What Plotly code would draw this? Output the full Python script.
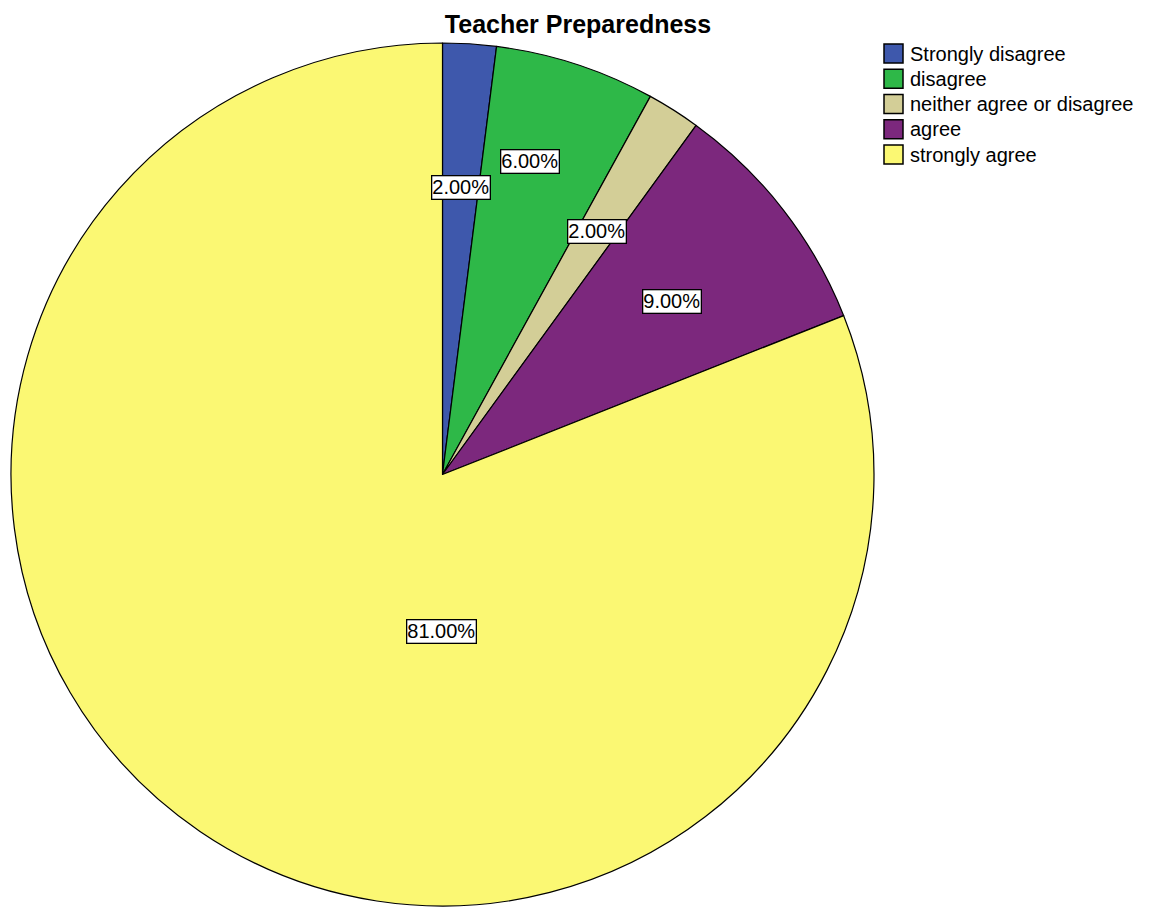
import math
import plotly.graph_objects as go

# ---- data ----
categories = ["Strongly disagree", "disagree", "neither agree or disagree", "agree", "strongly agree"]
percents = [2.0, 6.0, 2.0, 9.0, 81.0]
label_texts = ["2.00%", "6.00%", "2.00%", "9.00%", "81.00%"]

# ---- style ----
colors = ["#3E58AC", "#2EB848", "#D3CE97", "#7C287D", "#FBF873"]
label_radius_frac = [0.667, 0.754, 0.667, 0.667, 0.363]
label_angle_shift = [0.0, -2.4, 0.0, 0.8, -33.7]

W, H = 1150, 907
dom_x = [10 / W, 875 / W]
dom_y = [1 - 906 / H, 1 - 43 / H]

fig = go.Figure(go.Pie(
    labels=categories,
    values=percents,
    sort=False,
    direction="clockwise",
    rotation=0,
    marker=dict(colors=colors, line=dict(color="black", width=1.2)),
    textinfo="none",
    hoverinfo="label+percent",
    domain=dict(x=dom_x, y=dom_y),
    showlegend=False,
))

# slice labels derived from slice geometry
cx = (dom_x[0] + dom_x[1]) / 2 * W
cy = (1 - (dom_y[0] + dom_y[1]) / 2) * H
R = min((dom_x[1] - dom_x[0]) * W, (dom_y[1] - dom_y[0]) * H) / 2
total = sum(percents)
cum = 0.0
annotations = []
for v, txt, rf, sh in zip(percents, label_texts, label_radius_frac, label_angle_shift):
    mid = (cum + v / 2) / total * 360 + sh
    cum += v
    th = math.radians(mid)
    px = cx + rf * R * math.sin(th)
    py = cy - rf * R * math.cos(th)
    annotations.append(dict(
        x=px / W, y=1 - py / H, xref="paper", yref="paper",
        text=txt, showarrow=False,
        font=dict(family="Arial", size=20, color="black"),
        bgcolor="white", bordercolor="black", borderwidth=1.3, borderpad=0,
        xanchor="center", yanchor="middle",
    ))

# legend (SPSS style: large boxed swatches, tight rows)
leg_x0, leg_top, leg_step, sw_w, sw_h, txt_gap = 884, 44, 25.25, 19, 19, 5
shapes = []
for i, (cat, col) in enumerate(zip(categories, colors)):
    y0 = leg_top + i * leg_step
    shapes.append(dict(type="rect", xref="paper", yref="paper",
                       x0=leg_x0 / W, x1=(leg_x0 + sw_w) / W,
                       y0=1 - (y0 + sw_h) / H, y1=1 - y0 / H,
                       fillcolor=col, line=dict(color="black", width=1.5)))
    annotations.append(dict(
        x=(leg_x0 + sw_w + txt_gap) / W, y=1 - (y0 + sw_h / 2) / H,
        xref="paper", yref="paper", text=cat, showarrow=False,
        xanchor="left", yanchor="middle",
        font=dict(family="Arial", size=20, color="black"),
    ))

fig.update_layout(
    width=W, height=H,
    margin=dict(l=0, r=0, t=0, b=0),
    paper_bgcolor="white",
    plot_bgcolor="white",
    showlegend=False,
    title=dict(text="<b>Teacher Preparedness</b>", x=578 / W, xanchor="center",
               y=1 - 24 / H, yanchor="middle",
               font=dict(family="Arial", size=25, color="black")),
    annotations=annotations,
    shapes=shapes,
)

fig.write_html("out.html", config={"displayModeBar": False},
               post_script="document.body.style.margin='0';")
